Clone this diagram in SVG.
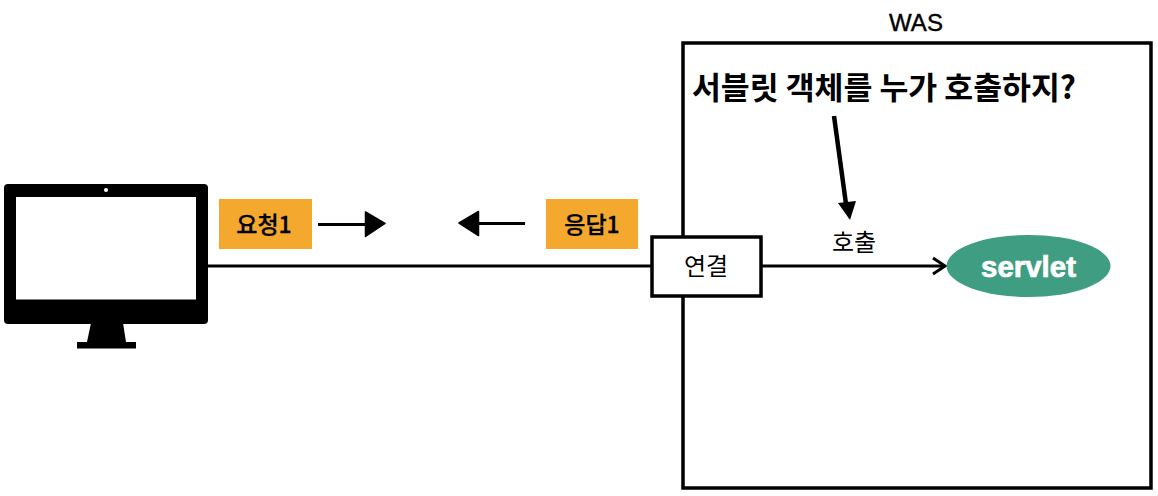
<svg xmlns="http://www.w3.org/2000/svg" width="1158" height="496" viewBox="0 0 1158 496">
<style>
.t{font-family:"Liberation Sans","Noto Sans CJK KR",sans-serif;fill:#000;text-anchor:middle}
.k{font-family:"Noto Sans CJK KR","Liberation Sans",sans-serif;fill:#000;text-anchor:middle}
.line{fill:none;stroke:#000;stroke-width:3}
.tag{fill:#f5a82e}
.rough{fill:none;stroke:#000;stroke-width:3}
.head{fill:#000;stroke:#000;stroke-width:1.500;stroke-linejoin:round}
</style>
<rect width="1158" height="496" fill="#fff"/>
<g id="was">
<rect x="683" y="43" width="468" height="445" fill="#fff" stroke="#000" stroke-width="3.5"/>
<text class="t" x="916" y="31" font-size="24" stroke="#000" stroke-width="0.400">WAS</text>
</g>
<g id="question">
<text class="k" x="884" y="99" font-size="31" font-weight="700" textLength="384" lengthAdjust="spacingAndGlyphs">서블릿 객체를 누가 호출하지?</text>
</g>
<g id="connectors">
<path class="line" d="M207 266H652"/>
<path class="line" d="M761 266H944"/>
<path d="M933 258L945 266L933 274" fill="none" stroke="#000" stroke-width="3"/>
<path d="M834 116L846 204" fill="none" stroke="#000" stroke-width="4.500"/>
<path d="M838 203L856 201L850 220Z" fill="#000"/>
<path class="rough" d="M318 224.500H366"/>
<path class="head" d="M365.500 212L385 223.500L365.500 236.500Z"/>
<path class="rough" d="M525 223.500H478"/>
<path class="head" d="M478.500 211.500L459 223L478.500 235.500Z"/>
</g>
<g id="monitor">
<rect x="4" y="184" width="204" height="140" rx="4" fill="#000"/>
<rect x="16" y="197" width="180" height="102.500" fill="#fff"/>
<circle cx="106" cy="190" r="2" fill="#fff"/>
<path d="M91 323H123L126 342H87Z" fill="#000"/>
<rect x="77" y="342" width="59" height="6.500" fill="#000"/>
</g>
<g id="req">
<rect class="tag" x="219" y="199" width="93" height="50"/>
<text class="k" x="264" y="233" font-size="23" font-weight="500" stroke="#000" stroke-width="0.300">요청1</text>
</g>
<g id="res">
<rect class="tag" x="546" y="199" width="92" height="50"/>
<text class="k" x="592" y="233" font-size="23" font-weight="500" stroke="#000" stroke-width="0.300">응답1</text>
</g>
<g id="conn">
<rect x="652" y="237" width="109" height="59" fill="#fff" stroke="#000" stroke-width="3.500"/>
<text class="k" x="706" y="275" font-size="24">연결</text>
</g>
<g id="call">
<text class="k" x="854" y="251" font-size="24">호출</text>
</g>
<g id="servlet">
<ellipse cx="1028.500" cy="266" rx="82" ry="31" fill="#3f9e82"/>
<text class="t" x="1028.500" y="277" font-size="29" font-weight="700" textLength="95" lengthAdjust="spacingAndGlyphs" stroke="#fff" stroke-width="0.700" style="fill:#fff">servlet</text>
</g>
</svg>
